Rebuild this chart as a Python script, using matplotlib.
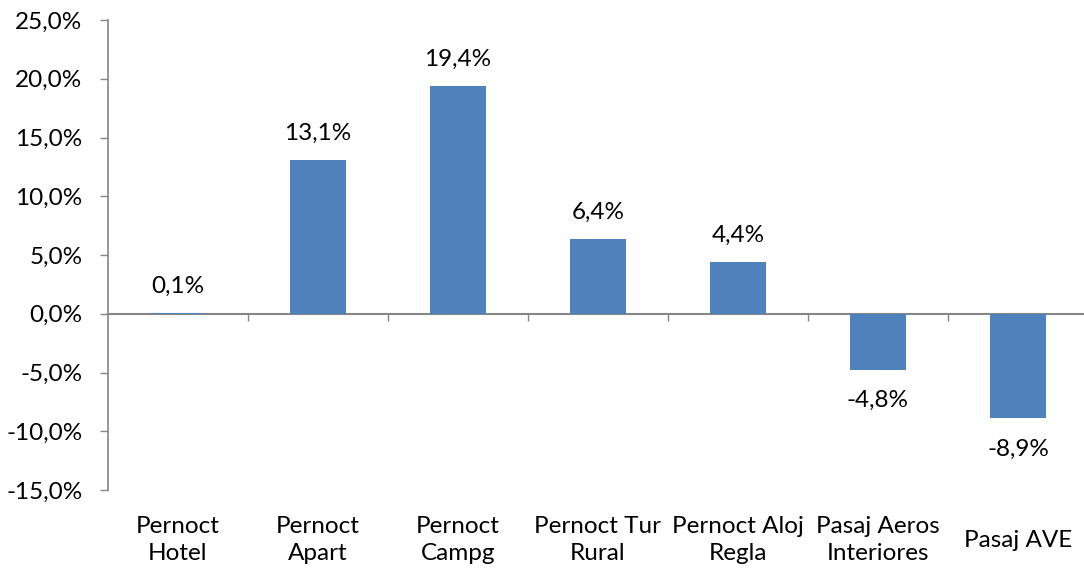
import matplotlib
matplotlib.use("Agg")
import matplotlib.pyplot as plt
import matplotlib.transforms as mtransforms
import numpy as np

categories = ["Pernoct\nHotel", "Pernoct\nApart", "Pernoct\nCampg", "Pernoct Tur\nRural",
              "Pernoct Aloj\nRegla", "Pasaj Aeros\nInteriores", "Pasaj AVE"]
values = [0.1, 13.1, 19.4, 6.4, 4.4, -4.8, -8.9]
y_ticks = [-15, -10, -5, 0, 5, 10, 15, 20, 25]

plt.rcParams['font.family'] = ['Lato', 'DejaVu Sans']
fig = plt.figure(figsize=(10.84, 5.71), dpi=100)
ax = fig.add_axes([108/1084, 1-490/571, 980/1084, 470/571])

grey = "#868686"
fs = 17.5
x = np.arange(len(categories))
bars = ax.bar(x, values, width=0.4, color="#4F81BD", zorder=2)

ax.set_xlim(-0.5, len(categories) - 0.5)
ax.set_ylim(-15, 25)
ax.set_yticks(y_ticks)
ax.set_yticklabels([f"{v:.1f}%".replace(".", ",") for v in y_ticks], fontsize=fs)
ax.tick_params(axis="y", direction="out", length=5.5, color=grey, width=1, pad=13)

for s in ["top", "right", "bottom"]:
    ax.spines[s].set_visible(False)
ax.spines["left"].set_color(grey)
ax.spines["left"].set_linewidth(1.2)

# category labels at bottom
ax.set_xticks(x)
ax.set_xticklabels(categories, fontsize=fs, linespacing=1.33)
ax.tick_params(axis="x", length=0, pad=19)
for lbl, cat in zip(ax.get_xticklabels(), categories):
    if "\n" not in cat:
        shift = mtransforms.ScaledTranslation(0, -0.14, fig.dpi_scale_trans)
        lbl.set_transform(lbl.get_transform() + shift)

# zero axis with boundary ticks
sec = ax.secondary_xaxis(15/40)
sec.set_xticks(np.arange(0.5, len(categories) - 0.5, 1.0))
sec.set_xticklabels([])
sec.tick_params(axis="x", direction="out", length=5, color=grey, width=1)
sec.spines["bottom"].set_color(grey)
sec.spines["bottom"].set_linewidth(1.5)

for xi, v in zip(x, values):
    label = f"{v:.1f}%".replace(".", ",")
    if v >= 0:
        ax.annotate(label, (xi, v), xytext=(0, 19), textcoords="offset points",
                    ha="center", va="center", fontsize=fs)
    else:
        ax.annotate(label, (xi, v), xytext=(0, -22), textcoords="offset points",
                    ha="center", va="center", fontsize=fs)

fig.savefig("out.png", dpi=100)
